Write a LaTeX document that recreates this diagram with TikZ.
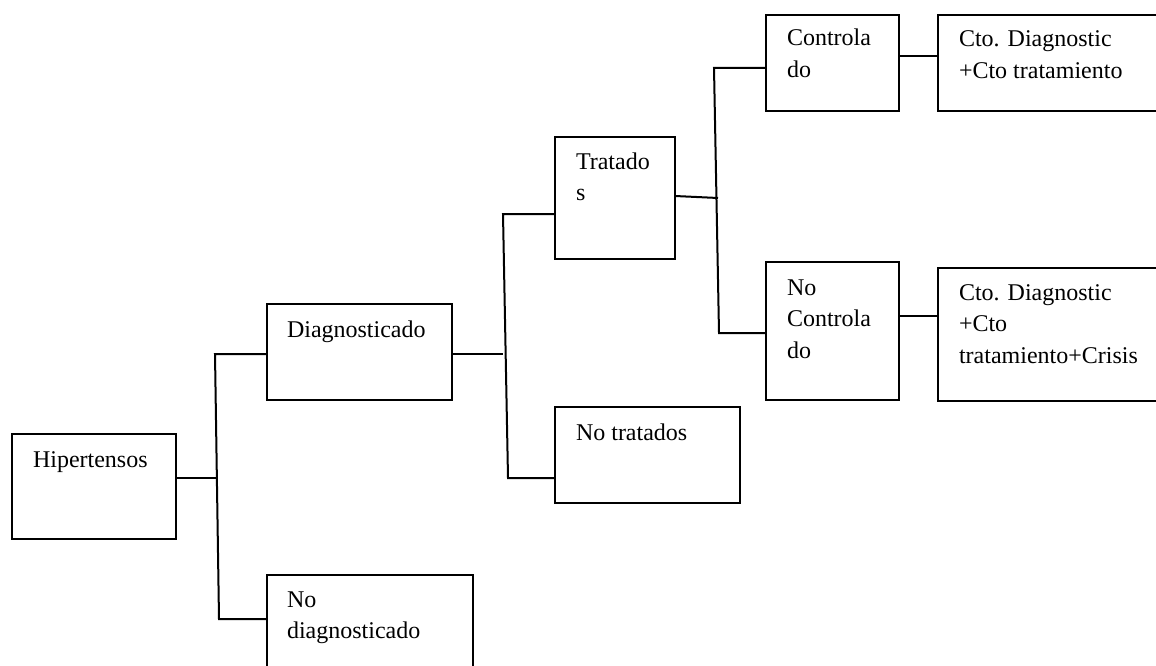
\documentclass[tikz,border=0pt]{standalone}
\usepackage{fontspec}
\setmainfont{Liberation Serif}
\newcommand{\boxtxt}[1]{\parbox[t]{300pt}{\raggedright\fontsize{24}{31.7}\selectfont #1}}
\begin{document}
\begin{tikzpicture}[x=1pt,y=-1pt,
  bx/.style={draw,line width=2pt,inner sep=0pt,outer sep=0pt,anchor=north west},
  tx/.style={anchor=base west,inner sep=0pt,outer sep=0pt},
  ln/.style={line width=2pt}]
\useasboundingbox (0,0) rectangle (1156,666);
\clip (0,0) rectangle (1156,666);
\fill[white] (0,0) rectangle (1156,666);
% boxes
\node[bx,minimum width=164pt,minimum height=105pt] (hip) at (12,434) {};
\node[bx,minimum width=185pt,minimum height=96pt] (diag) at (267,304) {};
\node[bx,minimum width=206pt,minimum height=125pt] (nodiag) at (267,575) {};
\node[bx,minimum width=120pt,minimum height=122pt] (trat) at (555,137) {};
\node[bx,minimum width=185pt,minimum height=96pt] (notrat) at (555,407) {};
\node[bx,minimum width=133pt,minimum height=96pt] (ctrl) at (766,15) {};
\node[bx,minimum width=133pt,minimum height=138pt] (noctrl) at (766,262) {};
\node[bx,minimum width=262pt,minimum height=96pt] (cto1) at (938,15) {};
\node[bx,minimum width=262pt,minimum height=133pt] (cto2) at (938,268) {};
% texts
\node[tx] (thip) at (33,467) {\boxtxt{Hipertensos}};
\node[tx] (tdiag) at (287,337) {\boxtxt{Diagnosticado}};
\node[tx] (tnodiag) at (287,607) {\boxtxt{No\\diagnosticado}};
\node[tx] (ttrat) at (576,169) {\boxtxt{Tratado\\s}};
\node[tx] (tnotrat) at (576,440) {\boxtxt{No tratados}};
\node[tx] (tctrl) at (787,46) {\boxtxt{Controla\\do}};
\node[tx] (tnoctrl) at (787,295) {\boxtxt{No\\Controla\\do}};
\node[tx] (tcto1) at (959,47) {\boxtxt{Cto. Diagnostic\\+Cto tratamiento}};
\node[tx] (tcto2) at (959,300) {\boxtxt{Cto. Diagnostic\\+Cto\\tratamiento+Crisis}};
% junction coordinates
\coordinate (j1) at (217,478);
\coordinate (j1t) at (215,354);
\coordinate (j1b) at (219,619);
\coordinate (j2) at (503,354);
\coordinate (j2t) at (503,214);
\coordinate (j2b) at (508,478);
\coordinate (j3) at (718,198);
\coordinate (j3t) at (714,68);
\coordinate (j3b) at (719,333);
% connectors
\draw[ln] (hip.east |- j1) -- (j1);
\draw[ln] (diag.west |- j1t) -- (j1t) -- (j1b) -- (nodiag.west |- j1b);
\draw[ln] (diag.east |- j2) -- (j2);
\draw[ln] (trat.west |- j2t) -- (j2t) -- (j2b) -- (notrat.west |- j2b);
\draw[ln] (trat.east |- 0,196) -- (j3);
\draw[ln] (ctrl.west |- j3t) -- (j3t) -- (j3b) -- (noctrl.west |- j3b);
\draw[ln] (ctrl.east |- 0,56) -- (cto1.west |- 0,56);
\draw[ln] (noctrl.east |- 0,316) -- (cto2.west |- 0,316);
\end{tikzpicture}
\end{document}
